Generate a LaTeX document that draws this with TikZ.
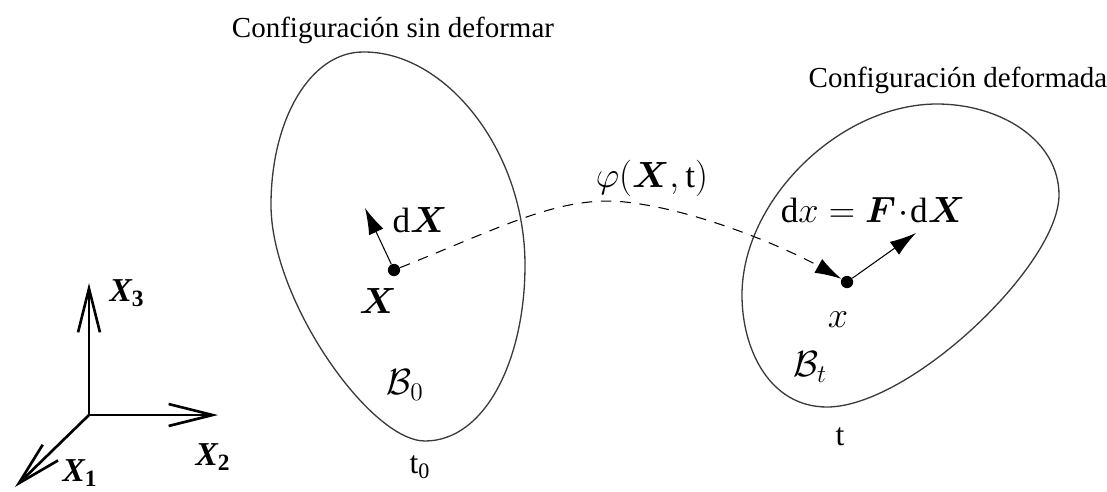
\documentclass[tikz,border=0pt]{standalone}
\usepackage{amsmath}
\usepackage{fontspec}
\setmainfont{Liberation Serif}
\usetikzlibrary{arrows.meta}

\definecolor{blobc}{HTML}{3A3A3A}

\begin{document}
\begin{tikzpicture}[x=0.02cm,y=-0.02cm,
  blob/.style={draw=blobc,line width=0.75pt},
  dot/.style={circle,fill=black,inner sep=0pt,minimum size=7pt},
  vec/.style={line width=0.6pt,-{Latex[length=15pt,width=9pt]}},
  axis/.style={line width=1.5pt,-{Straight Barb[length=25pt,width=12.5pt,line width=1.5pt]}},
  captext/.style={font=\fontsize{16.5}{19}\selectfont},
  mlab/.style={font=\fontsize{20}{24}\selectfont,inner sep=1pt},
  tlab/.style={font=\fontsize{18}{21}\selectfont,inner sep=1pt},
  alab/.style={font=\fontsize{19}{22}\selectfont\bfseries\itshape,inner sep=1pt}]
\useasboundingbox (0,0) rectangle (1107,491);
% captions
\node[captext] (capA) at (393,30) {Configuración sin deformar};
\node[captext] (capB) at (958,80) {Configuración deformada};
% bodies
\draw[blob] (363,52) .. controls (445,51) and (525,150) .. (525,265)
  .. controls (525,360) and (485,441) .. (425,441)
  .. controls (370,441) and (271,300) .. (271,205)
  .. controls (271,120) and (310,52) .. cycle;
\draw[blob] (937,104) .. controls (1000,104) and (1059,140) .. (1059,195)
  .. controls (1059,265) and (910,407) .. (827,407)
  .. controls (770,407) and (742,350) .. (742,295)
  .. controls (742,200) and (840,104) .. cycle;
% material point
\node[dot] (dotX) at (394,270) {};
\coordinate (tipX) at (365,208);
\draw[vec] (dotX) -- (tipX);
\node[mlab] (lbldX) at (420,220) {$\mathrm{d}\boldsymbol{X}$};
\node[mlab] (lblX) at (378,301) {$\boldsymbol{X}$};
\node[mlab] (lblB0) at (405,385) {$\mathcal{B}_0$};
\node[tlab] (lblt0) at (420,467) {t\textsubscript{0}};
% spatial point
\node[dot] (dotx) at (847,282) {};
\coordinate (tipx) at (916,233);
\draw[vec] (dotx) -- (tipx);
\node[mlab] (lbldx) at (873,210) {$\mathrm{d}x = \boldsymbol{F}\!\cdot\!\mathrm{d}\boldsymbol{X}$};
\node[mlab] (lblx) at (838,320) {$x$};
\node[mlab] (lblBt) at (810,367) {$\mathcal{B}_t$};
\node[tlab] (lblt) at (840,437) {t};
% motion
\draw[vec,dash pattern=on 6pt off 5pt] (dotX) .. controls (500,228) and (560,195) .. (625,202) .. controls (700,210) and (790,250) .. (dotx);
\node[mlab] (lblphi) at (652,178) {$\varphi(\boldsymbol{X},\mathrm{t})$};
% reference frame
\coordinate (O) at (89,415);
\coordinate (e1) at (15,487);
\coordinate (e2) at (218,415);
\coordinate (e3) at (89,283);
\draw[axis] (O) -- (e1);
\draw[axis] (O) -- (e2);
\draw[axis] (O) -- (e3);
\node[alab] (lblX1) at (80,473) {X\textsubscript{\upshape 1}};
\node[alab] (lblX2) at (213,457) {X\textsubscript{\upshape 2}};
\node[alab] (lblX3) at (127,293) {X\textsubscript{\upshape 3}};
\end{tikzpicture}
\end{document}
